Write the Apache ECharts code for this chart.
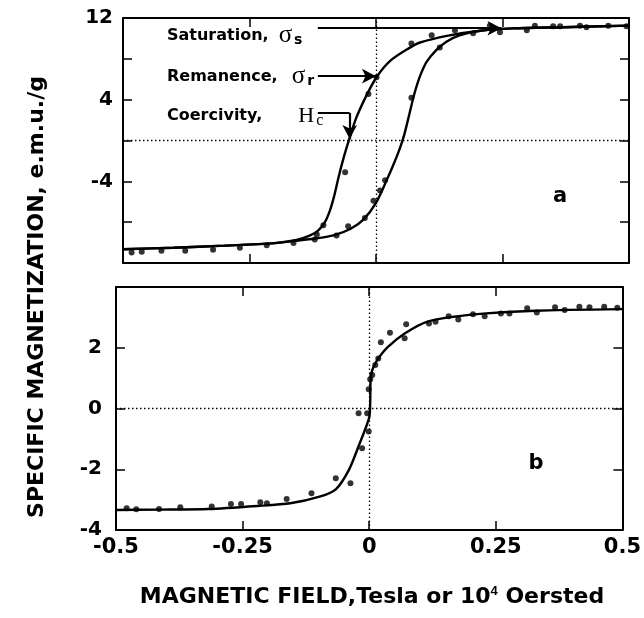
<!DOCTYPE html>
<html><head><meta charset="utf-8">
<script src="https://cdn.jsdelivr.net/npm/echarts@6/dist/echarts.min.js"></script>
<style>html,body{margin:0;padding:0;background:#fff}#c{width:644px;height:618px}</style>
</head><body><div id="c"></div>
<script>
// ---- data (top panel a: hysteresis loop) ----
const xTickLabels = [-0.5, -0.25, 0, 0.25, 0.5];
const topYLabels = [12, 4, -4];
const bottomYLabels = [2, 0, -2, -4];
const loopLower = [[-0.5,-10.65],[-0.4,-10.5],[-0.3,-10.3],[-0.2,-10.05],[-0.163,-9.85],[-0.12,-9.6],[-0.084,-9.3],[-0.05,-8.65],[-0.025,-7.75],[0.0,-6.1],[0.021,-3.9],[0.035,-2.3],[0.047,-0.8],[0.056,0.6],[0.066,2.6],[0.076,4.6],[0.087,6.3],[0.1,7.7],[0.12,8.9],[0.14,9.7],[0.165,10.3],[0.206,10.75],[0.27,10.98],[0.37,11.1],[0.5,11.25]];
const loopUpper = [[-0.5,-10.65],[-0.4,-10.5],[-0.3,-10.3],[-0.2,-10.05],[-0.157,-9.75],[-0.13,-9.3],[-0.115,-8.85],[-0.102,-8.1],[-0.092,-7.0],[-0.083,-5.5],[-0.074,-3.6],[-0.064,-1.7],[-0.053,0.1],[-0.04,2.1],[-0.02,4.3],[0.001,6.2],[0.028,7.8],[0.067,9.1],[0.087,9.6],[0.14,10.25],[0.206,10.75],[0.27,10.98],[0.37,11.1],[0.5,11.25]];
const loopDots = [[-0.483,-10.96],[-0.463,-10.9],[-0.424,-10.8],[-0.377,-10.8],[-0.322,-10.7],[-0.269,-10.5],[-0.216,-10.25],[-0.163,-10.05],[-0.121,-9.7],[-0.117,-9.2],[-0.104,-8.3],[-0.078,-9.3],[-0.061,-3.1],[-0.055,-8.4],[-0.022,-7.6],[-0.005,-5.9],[0.008,-4.9],[0.018,-3.9],[-0.015,4.56],[0.001,6.2],[0.07,9.5],[0.07,4.2],[0.11,10.3],[0.126,9.1],[0.156,10.8],[0.192,10.5],[0.225,11.25],[0.245,10.6],[0.298,10.8],[0.314,11.25],[0.35,11.2],[0.364,11.2],[0.403,11.25],[0.416,11.1],[0.459,11.25],[0.495,11.2]];
// ---- data (bottom panel b) ----
const bCurve = [[-0.5,-3.34],[-0.415,-3.33],[-0.318,-3.31],[-0.221,-3.21],[-0.156,-3.12],[-0.098,-2.9],[-0.066,-2.66],[-0.04,-2.02],[-0.02,-1.2],[0.0,-0.3],[0.002,0.2],[0.003,1.05],[0.008,1.35],[0.018,1.65],[0.037,2.03],[0.07,2.47],[0.115,2.86],[0.167,3.02],[0.231,3.13],[0.328,3.22],[0.5,3.27]];
const bDots = [[-0.479,-3.28],[-0.46,-3.32],[-0.415,-3.31],[-0.373,-3.25],[-0.311,-3.23],[-0.273,-3.14],[-0.253,-3.14],[-0.215,-3.09],[-0.202,-3.12],[-0.163,-2.98],[-0.114,-2.79],[-0.066,-2.3],[-0.037,-2.46],[-0.014,-1.31],[-0.001,-0.76],[-0.021,-0.16],[-0.004,-0.16],[-0.001,0.63],[0.002,0.96],[0.006,1.1],[0.012,1.43],[0.018,1.65],[0.023,2.18],[0.041,2.49],[0.07,2.31],[0.073,2.77],[0.118,2.8],[0.131,2.86],[0.157,3.04],[0.176,2.93],[0.205,3.1],[0.228,3.04],[0.26,3.13],[0.277,3.13],[0.312,3.3],[0.331,3.16],[0.367,3.33],[0.386,3.24],[0.415,3.35],[0.435,3.33],[0.464,3.35],[0.49,3.32]];
// annotation anchor values (data space of panel a)
const satY = 11.0, remY = 6.3, coeY = 2.7, annX0 = -0.115, satX1 = 0.248, remX1 = 0.0, coeX1 = -0.052;

const F = '"DejaVu Sans","Open Sans",sans-serif';
const black = '#000';
function xAx(grid, pos, labels) {
  return { type:'value', gridIndex:grid, position:pos, min:-0.5, max:0.5, interval:0.25,
    axisLine:{show:true, onZero:false, lineStyle:{color:black,width:2}},
    axisTick:{show:true, inside:true, length:9, lineStyle:{color:black,width:1.5}},
    splitLine:{show:false},
    axisLabel:{show:labels, color:black, fontFamily:F, fontWeight:'bold', fontSize:21, margin:7,
      showMinLabel:true, showMaxLabel:true,
      formatter: v => xTickLabels.some(t => Math.abs(t - v) < 1e-9) ? String(v) : ''}
  };
}
function yAx(grid, pos, min, max, interval, labels, margin) {
  return { type:'value', gridIndex:grid, position:pos, min:min, max:max, interval:interval,
    axisLine:{show:true, onZero:false, lineStyle:{color:black,width:2}},
    axisTick:{show:true, inside:true, length:9, lineStyle:{color:black,width:1.5}},
    splitLine:{show:false},
    axisLabel:{show:!!labels, color:black, fontFamily:F, fontWeight:'bold', fontSize:20, margin:margin||10,
      showMinLabel:true, showMaxLabel:true,
      formatter: v => (labels && labels.indexOf(v) >= 0) ? String(v) : ''}
  };
}
const dotted = {color:black, width:1.3, type:[1.5,2.5]};
const zeroLines = { silent:true, symbol:'none', label:{show:false}, lineStyle:dotted, animation:false,
  data:[{yAxis:0},{xAxis:0}] };
const arrowStyle = {color:black, width:2.2, type:'solid'};
const serif = '"Liberation Serif","DejaVu Serif",serif';
function annRich(gap, gsize, subStyle) {
  return { g:{fontFamily:serif, fontSize:gsize, fontWeight:'normal', padding:[0,0,0,gap]},
           sub:Object.assign({fontSize:14, fontWeight:'bold', fontFamily:F, padding:[9,0,0,2]}, subStyle||{}) };
}

const chart = echarts.init(document.getElementById('c'), null, {renderer:'canvas'});
chart.setOption({
  animation:false,
  backgroundColor:'#fff',
  grid:[{left:123, right:15, top:18, height:245},{left:116, right:12, top:287, height:243}],
  xAxis:[xAx(0,'bottom',false), xAx(0,'top',false), xAx(1,'bottom',true), xAx(1,'top',false)],
  yAxis:[yAx(0,'left',-12,12,4,topYLabels,10), yAx(0,'right',-12,12,4,null),
         yAx(1,'left',-4,4,2,bottomYLabels,14), yAx(1,'right',-4,4,2,null)],
  series:[
    {type:'line', xAxisIndex:0, yAxisIndex:0, data:loopLower, smooth:0.3, showSymbol:false,
      lineStyle:{color:black,width:2.4}, markLine:zeroLines, z:3},
    {type:'line', xAxisIndex:0, yAxisIndex:0, data:loopUpper, smooth:0.3, showSymbol:false,
      lineStyle:{color:black,width:2.4}, z:3},
    {type:'scatter', xAxisIndex:0, yAxisIndex:0, data:loopDots, symbolSize:6,
      itemStyle:{color:black}, z:4,
      markLine:{silent:true, symbol:['none','arrow'], symbolSize:[11,14], label:{show:false}, lineStyle:arrowStyle, animation:false,
        data:[
          [{coord:[annX0,satY]},{coord:[satX1,satY]}],
          [{coord:[annX0,remY]},{coord:[remX1,remY]}],
          [{coord:[coeX1,coeY]},{coord:[coeX1,0.15]}]
        ]}},
    {type:'line', xAxisIndex:0, yAxisIndex:0, data:[],
      markLine:{silent:true, symbol:'none', label:{show:false}, lineStyle:arrowStyle, animation:false,
        data:[[{coord:[annX0,coeY]},{coord:[coeX1,coeY]}]]}},
    {type:'line', xAxisIndex:2, yAxisIndex:2, data:bCurve, smooth:0.25, showSymbol:false,
      lineStyle:{color:black,width:2.4}, markLine:zeroLines, z:3},
    {type:'scatter', xAxisIndex:2, yAxisIndex:2, data:bDots, symbolSize:6,
      itemStyle:{color:black}, z:4}
  ],
  graphic:[
    {type:'text', left:167, top:23, style:{text:'Saturation,{g|σ}{sub|s}', fill:black,
      font:'bold 16px '+F, rich:annRich(10, 25)}},
    {type:'text', left:167, top:64, style:{text:'Remanence,{g|σ}{sub|r}', fill:black,
      font:'bold 16px '+F, rich:annRich(14, 25)}},
    {type:'text', left:167, top:105, style:{text:'Coercivity,{g|H}{sub|c}', fill:black,
      font:'bold 16px '+F, rich:annRich(36, 22, {fontWeight:'normal', fontFamily:serif, fontSize:16})}},
    {type:'text', x:560, y:197, style:{text:'a', fill:black, font:'bold 21px '+F, align:'center', verticalAlign:'middle'}},
    {type:'text', x:536, y:464, style:{text:'b', fill:black, font:'bold 21px '+F, align:'center', verticalAlign:'middle'}},
    {type:'text', x:37, y:297, rotation:Math.PI/2, style:{text:'SPECIFIC MAGNETIZATION, e.m.u./g', fill:black, font:'bold 22px '+F, align:'center', verticalAlign:'middle'}},
    {type:'text', x:372, y:597, style:{text:'MAGNETIC FIELD,Tesla or 10{sup|4} Oersted', fill:black, font:'bold 22px '+F, align:'center', verticalAlign:'middle',
      rich:{sup:{fontSize:13, fontWeight:'bold', padding:[0,0,11,0]}}}}
  ]
});
</script></body></html>
